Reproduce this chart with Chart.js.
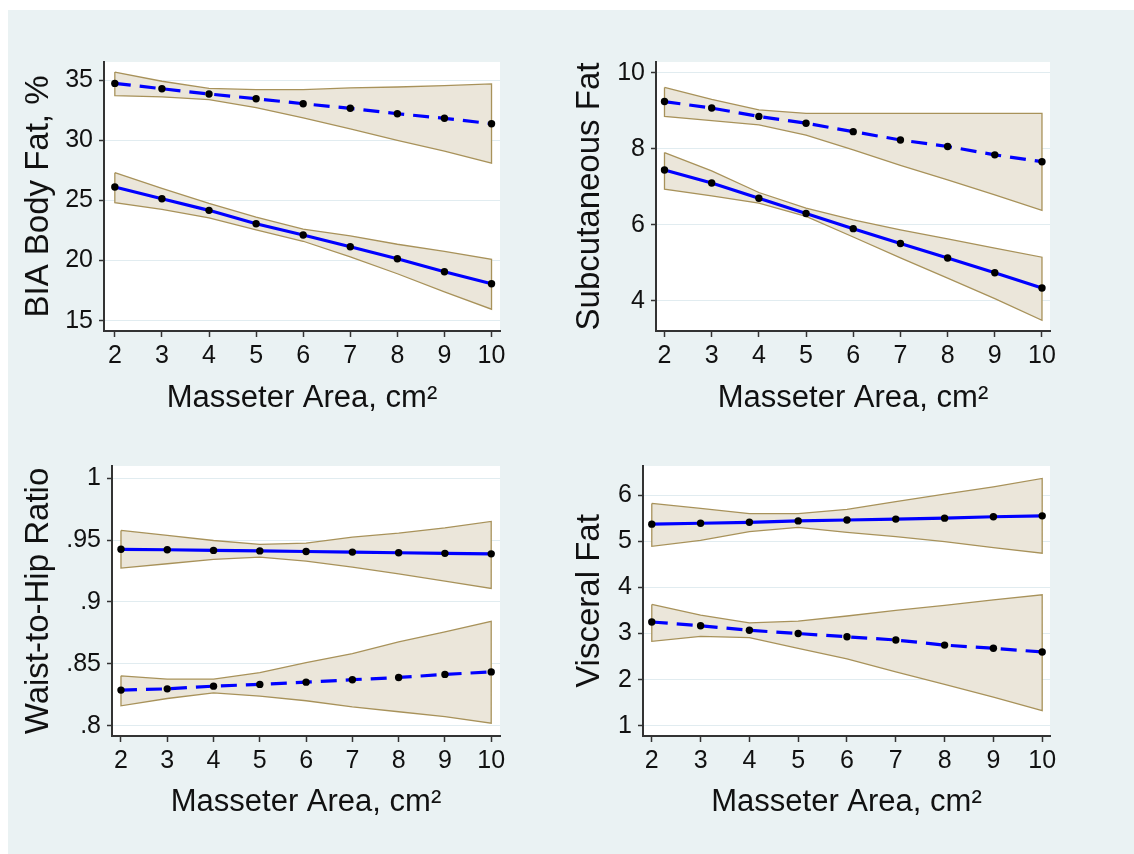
<!DOCTYPE html>
<html lang="en">
<head>
<meta charset="UTF-8">
<title>Masseter Area and Body Fat Measures</title>
<script src="https://cdn.jsdelivr.net/npm/chart.js"></script>
<style>
  body { margin: 0; background: #fff; width: 1134px; height: 854px; overflow: hidden; }
  #frame { position: absolute; left: 8px; top: 10px; width: 1126px; height: 844px; background: #eaf2f3; }
  .panel { position: absolute; }
</style>
</head>
<body>
<div id="frame"></div>
<div class="panel" style="left:8px; top:10px; width:559px; height:417px"><canvas id="bia"></canvas></div>
<div class="panel" style="left:567px; top:10px; width:567px; height:417px"><canvas id="sub"></canvas></div>
<div class="panel" style="left:8px; top:427px; width:559px; height:427px"><canvas id="whr"></canvas></div>
<div class="panel" style="left:567px; top:427px; width:567px; height:427px"><canvas id="vis"></canvas></div>

<script>
// x values (masseter area, cm²)
const masseter = [2, 3, 4, 5, 6, 7, 8, 9, 10];

// BIA body fat, %
const biaSolid    = [26.11, 25.13, 24.17, 23.06, 22.12, 21.14, 20.14, 19.07, 18.07];
const biaSolidHi  = [27.3, 26.0, 24.75, 23.6, 22.6, 22.05, 21.35, 20.75, 20.1];
const biaSolidLo  = [24.8, 24.25, 23.55, 22.55, 21.6, 20.3, 18.9, 17.4, 15.95];
const biaDashed   = [34.72, 34.28, 33.84, 33.45, 33.03, 32.65, 32.2, 31.82, 31.37];
const biaDashedHi = [35.66, 34.9, 34.3, 34.2, 34.2, 34.35, 34.42, 34.53, 34.68];
const biaDashedLo = [33.7, 33.6, 33.38, 32.7, 31.85, 30.95, 29.98, 29.1, 28.1];
const biaTicks = [15, 20, 25, 30, 35];

// Subcutaneous fat
const subSolid    = [7.44, 7.10, 6.70, 6.30, 5.90, 5.51, 5.13, 4.74, 4.34];
const subSolidHi  = [7.90, 7.42, 6.85, 6.44, 6.13, 5.87, 5.63, 5.39, 5.15];
const subSolidLo  = [6.94, 6.76, 6.57, 6.22, 5.68, 5.13, 4.60, 4.06, 3.49];
const subDashed   = [9.24, 9.07, 8.85, 8.67, 8.45, 8.23, 8.06, 7.84, 7.66];
const subDashedHi = [9.61, 9.30, 9.02, 8.93, 8.93, 8.93, 8.93, 8.93, 8.93];
const subDashedLo = [8.85, 8.74, 8.63, 8.36, 7.97, 7.56, 7.18, 6.79, 6.38];
const subTicks = [4, 6, 8, 10];

// Waist-to-hip ratio
const whrSolid    = [0.9426, 0.9422, 0.9417, 0.9413, 0.9408, 0.9403, 0.9398, 0.9393, 0.9389];
const whrSolidHi  = [0.9578, 0.9538, 0.9497, 0.9465, 0.9476, 0.9524, 0.9556, 0.9599, 0.9651];
const whrSolidLo  = [0.9274, 0.9309, 0.9344, 0.9363, 0.9331, 0.9282, 0.9228, 0.9169, 0.9110];
const whrDashed   = [0.8288, 0.8298, 0.8320, 0.8334, 0.8352, 0.8372, 0.8390, 0.8415, 0.8435];
const whrDashedHi = [0.8403, 0.8376, 0.8376, 0.8430, 0.8510, 0.8583, 0.8677, 0.8758, 0.8844];
const whrDashedLo = [0.8161, 0.8220, 0.8266, 0.8239, 0.8202, 0.8153, 0.8113, 0.8073, 0.8020];
const whrTicks = [0.8, 0.85, 0.9, 0.95, 1];
const whrTickLabels = ['.8', '.85', '.9', '.95', '1'];

// Visceral fat
const visSolid    = [5.37, 5.39, 5.41, 5.44, 5.46, 5.48, 5.50, 5.53, 5.55];
const visSolidHi  = [5.82, 5.71, 5.60, 5.60, 5.69, 5.86, 6.02, 6.18, 6.36];
const visSolidLo  = [4.89, 5.02, 5.21, 5.30, 5.19, 5.10, 4.99, 4.86, 4.74];
const visDashed   = [3.25, 3.17, 3.07, 3.00, 2.93, 2.86, 2.75, 2.68, 2.60];
const visDashedHi = [3.63, 3.40, 3.23, 3.27, 3.38, 3.50, 3.61, 3.73, 3.84];
const visDashedLo = [2.83, 2.94, 2.91, 2.68, 2.45, 2.17, 1.90, 1.62, 1.33];
const visTicks = [1, 2, 3, 4, 5, 6];

const xTitle = 'Masseter Area, cm²';

Chart.defaults.font.family = '"Liberation Sans", Arial, sans-serif';
Chart.defaults.color = '#111';

const BAND_FILL = '#ebe6da';
const BAND_EDGE = '#a8925a';
const LINE_BLUE = '#0000ff';
const AXIS = '#333';

// white plot region like Stata's plotregion
const plotBg = {
  id: 'plotBg',
  beforeDraw(chart) {
    const { ctx, chartArea: a } = chart;
    ctx.save();
    ctx.fillStyle = '#fff';
    ctx.fillRect(a.left, a.top, a.right - a.left, a.bottom - a.top);
    ctx.restore();
  }
};

const pts = ys => masseter.map((x, i) => ({ x, y: ys[i] }));
// closed outline of a confidence band
const outline = (hi, lo) => {
  const p = pts(hi).concat(pts(lo).reverse());
  p.push(p[0]);
  return p;
};

function bandSets(hi, lo) {
  return [
    { data: pts(hi), borderWidth: 0, pointRadius: 0, backgroundColor: BAND_FILL, fill: '+1', order: 3 },
    { data: pts(lo), borderWidth: 0, pointRadius: 0, fill: false, order: 3 },
  ];
}

function lineSet(ys, dashed) {
  return {
    data: pts(ys),
    borderColor: LINE_BLUE,
    borderWidth: 3.2,
    borderDash: dashed ? [16, 9] : [],
    pointRadius: 3.7,
    pointBackgroundColor: '#000',
    pointBorderWidth: 0,
    fill: false,
    order: 1
  };
}

function makePanel(id, p) {
  const datasets = [
    ...bandSets(p.solidHi, p.solidLo),
    ...bandSets(p.dashedHi, p.dashedLo),
    { data: outline(p.solidHi, p.solidLo), borderColor: BAND_EDGE, borderWidth: 1.3, pointRadius: 0, fill: false, order: 2 },
    { data: outline(p.dashedHi, p.dashedLo), borderColor: BAND_EDGE, borderWidth: 1.3, pointRadius: 0, fill: false, order: 2 },
    lineSet(p.solid, false),
    lineSet(p.dashed, true)
  ];

  new Chart(document.getElementById(id), {
    type: 'scatter',
    data: { datasets: datasets.map(d => Object.assign({ showLine: true, tension: 0 }, d)) },
    plugins: [plotBg],
    options: {
      responsive: true,
      maintainAspectRatio: false,
      animation: false,
      layout: { padding: { top: p.padTop, right: p.padRight, left: 0, bottom: 0 } },
      plugins: { legend: { display: false }, tooltip: { enabled: false } },
      scales: {
        x: {
          type: 'linear',
          min: p.xMin, max: p.xMax,
          afterBuildTicks: s => { s.ticks = masseter.map(v => ({ value: v })); },
          afterFit: s => { s.height = p.xAxisH; },
          ticks: { font: { size: 25 }, padding: 4, color: '#111' },
          grid: { drawOnChartArea: false, tickLength: 6, tickColor: AXIS, tickWidth: 1.5 },
          border: { color: AXIS, width: 2 },
          title: { display: true, text: xTitle, font: { size: 31 }, color: '#111', padding: { top: 0, bottom: p.xTitlePad } }
        },
        y: {
          type: 'linear',
          min: p.yMin, max: p.yMax,
          afterBuildTicks: s => { s.ticks = p.yTicks.map(v => ({ value: v })); },
          afterFit: s => { s.width = p.yAxisW; },
          ticks: {
            font: { size: 25 }, padding: 6, color: '#111',
            callback: v => p.yLabels ? p.yLabels[p.yTicks.indexOf(v)] : String(v)
          },
          grid: { color: '#e1ecf0', lineWidth: 1, tickLength: 5, tickColor: AXIS, tickWidth: 1.5 },
          border: { color: AXIS, width: 2 },
          title: { display: true, text: p.yTitle, font: { size: 33 }, color: '#111', padding: { top: p.yTitlePad, bottom: 0 } }
        }
      }
    }
  });
}

makePanel('bia', {
  solid: biaSolid, solidHi: biaSolidHi, solidLo: biaSolidLo,
  dashed: biaDashed, dashedHi: biaDashedHi, dashedLo: biaDashedLo,
  yTicks: biaTicks, yTitle: 'BIA Body Fat, %',
  xMin: 1.77, xMax: 10.18, yMin: 14.14, yMax: 36.5,
  padTop: 52, padRight: 67, yAxisW: 96, xAxisH: 96, yTitlePad: 11, xTitlePad: 10
});

makePanel('sub', {
  solid: subSolid, solidHi: subSolidHi, solidLo: subSolidLo,
  dashed: subDashed, dashedHi: subDashedHi, dashedLo: subDashedLo,
  yTicks: subTicks, yTitle: 'Subcutaneous Fat',
  xMin: 1.82, xMax: 10.17, yMin: 3.21, yMax: 10.28,
  padTop: 52, padRight: 84, yAxisW: 89, xAxisH: 96, yTitlePad: 3, xTitlePad: 10
});

makePanel('whr', {
  solid: whrSolid, solidHi: whrSolidHi, solidLo: whrSolidLo,
  dashed: whrDashed, dashedHi: whrDashedHi, dashedLo: whrDashedLo,
  yTicks: whrTicks, yLabels: whrTickLabels, yTitle: 'Waist-to-Hip Ratio',
  xMin: 1.806, xMax: 10.19, yMin: 0.7917, yMax: 1.0099,
  padTop: 39, padRight: 67, yAxisW: 104, xAxisH: 118, yTitlePad: 11, xTitlePad: 33
});

makePanel('vis', {
  solid: visSolid, solidHi: visSolidHi, solidLo: visSolidLo,
  dashed: visDashed, dashedHi: visDashedHi, dashedLo: visDashedLo,
  yTicks: visTicks, yTitle: 'Visceral Fat',
  xMin: 1.82, xMax: 10.16, yMin: 0.78, yMax: 6.63,
  padTop: 39, padRight: 84, yAxisW: 76, xAxisH: 118, yTitlePad: 3, xTitlePad: 33
});
</script>
</body>
</html>
